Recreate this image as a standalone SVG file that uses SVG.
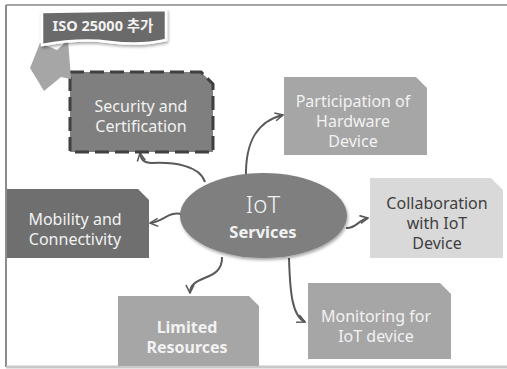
<svg xmlns="http://www.w3.org/2000/svg" width="507" height="369" viewBox="0 0 507 369">
<defs>
<style>
.t{font-family:"Noto Sans","Noto Sans CJK KR",sans-serif;font-size:16px;text-anchor:middle}
.w{fill:#f2f2f2}
.d{fill:#3f3f3f}
.b{font-weight:bold}
.c{fill:none;stroke:#595959;stroke-width:2;marker-end:url(#ah)}
</style>
<marker id="ah" viewBox="0 0 10 10" refX="9" refY="5" markerWidth="10" markerHeight="10" markerUnits="userSpaceOnUse" orient="auto">
<path d="M1,1 L9,5 L1,9" fill="none" stroke="#595959" stroke-width="1.6"/>
</marker>
<filter id="sh" x="-10%" y="-10%" width="130%" height="140%">
<feDropShadow dx="1" dy="2" stdDeviation="1.5" flood-color="#000" flood-opacity="0.35"/>
</filter>
</defs>
<rect width="507" height="369" fill="#fff"/>
<g id="frame">
<line x1="6" y1="5" x2="507" y2="5" stroke="#a6a6a6" stroke-width="2"/>
<line x1="6" y1="5" x2="6" y2="367" stroke="#8c8c8c" stroke-width="2"/>
<line x1="6" y1="367" x2="507" y2="367" stroke="#c8c8c8" stroke-width="3"/>
</g>
<g id="connectors">
<path class="c" d="M205,182 C200,166 175,162 152,163 C143,163 141,159 140,153"/>
<path class="c" d="M246,178 C245,140 258,121 283,115"/>
<path class="c" d="M182,214 C168,211 163,222 150,223"/>
<path class="c" d="M346,228 C356,229 358,220 368,218"/>
<path class="c" d="M222,257 C223,282 190,274 190,293"/>
<path class="c" d="M289,258 C290,292 292,316 305,322"/>
</g>
<g id="iot">
<ellipse cx="263.5" cy="215.5" rx="83.5" ry="42.5" fill="#7f7f7f" filter="url(#sh)"/>
<text class="t w" x="263" y="213" style="font-size:24px;font-weight:300">IoT</text>
<text class="t w b" x="263" y="238" style="font-size:16.5px">Services</text>
</g>
<g id="security">
<path d="M70,72 H201 L213,84 V152 H70 Z" fill="#7f7f7f" stroke="#3f3f3f" stroke-width="3" stroke-dasharray="14,6"/>
<text class="t w" x="141" y="112">Security and</text>
<text class="t w" x="141" y="132">Certification</text>
</g>
<g id="participation">
<path d="M284,77 H416 L427,88 V155 H284 Z" fill="#a6a6a6"/>
<text class="t w" x="353" y="107">Participation of</text>
<text class="t w" x="353" y="127">Hardware</text>
<text class="t w" x="353" y="147">Device</text>
</g>
<g id="collaboration">
<path d="M370,178 H491 L503,190 V258 H370 Z" fill="#d9d9d9"/>
<text class="t d" x="437" y="209">Collaboration</text>
<text class="t d" x="437" y="229">with IoT</text>
<text class="t d" x="437" y="249">Device</text>
</g>
<g id="mobility">
<path d="M7,189 H138 L149,200 V258 H7 Z" fill="#6f6f6f"/>
<text class="t w" x="75" y="225">Mobility and</text>
<text class="t w" x="75" y="245">Connectivity</text>
</g>
<g id="limited">
<path d="M118,296 H249 L259,306 V366 H118 Z" fill="#a6a6a6"/>
<text class="t w b" x="187" y="333">Limited</text>
<text class="t w b" x="187" y="353">Resources</text>
</g>
<g id="monitoring">
<path d="M308,283 H440 L451,294 V359 H308 Z" fill="#a6a6a6"/>
<text class="t w" x="376" y="322">Monitoring for</text>
<text class="t w" x="376" y="342">IoT device</text>
</g>
<g id="callout">
<polygon points="40,43 57,50 68,40 71,79 61,77 44,91 30,68" fill="#a6a6a6"/>
<path d="M42,12 L166,10 L166,40 Q140,46 110,42 Q80,38 42,45 Z" fill="#6b6b6b" stroke="#fff" stroke-width="2.5" filter="url(#sh)"/>
<text class="t w b" x="103" y="31" style="font-size:14.5px">ISO 25000 추가</text>
</g>
</svg>
